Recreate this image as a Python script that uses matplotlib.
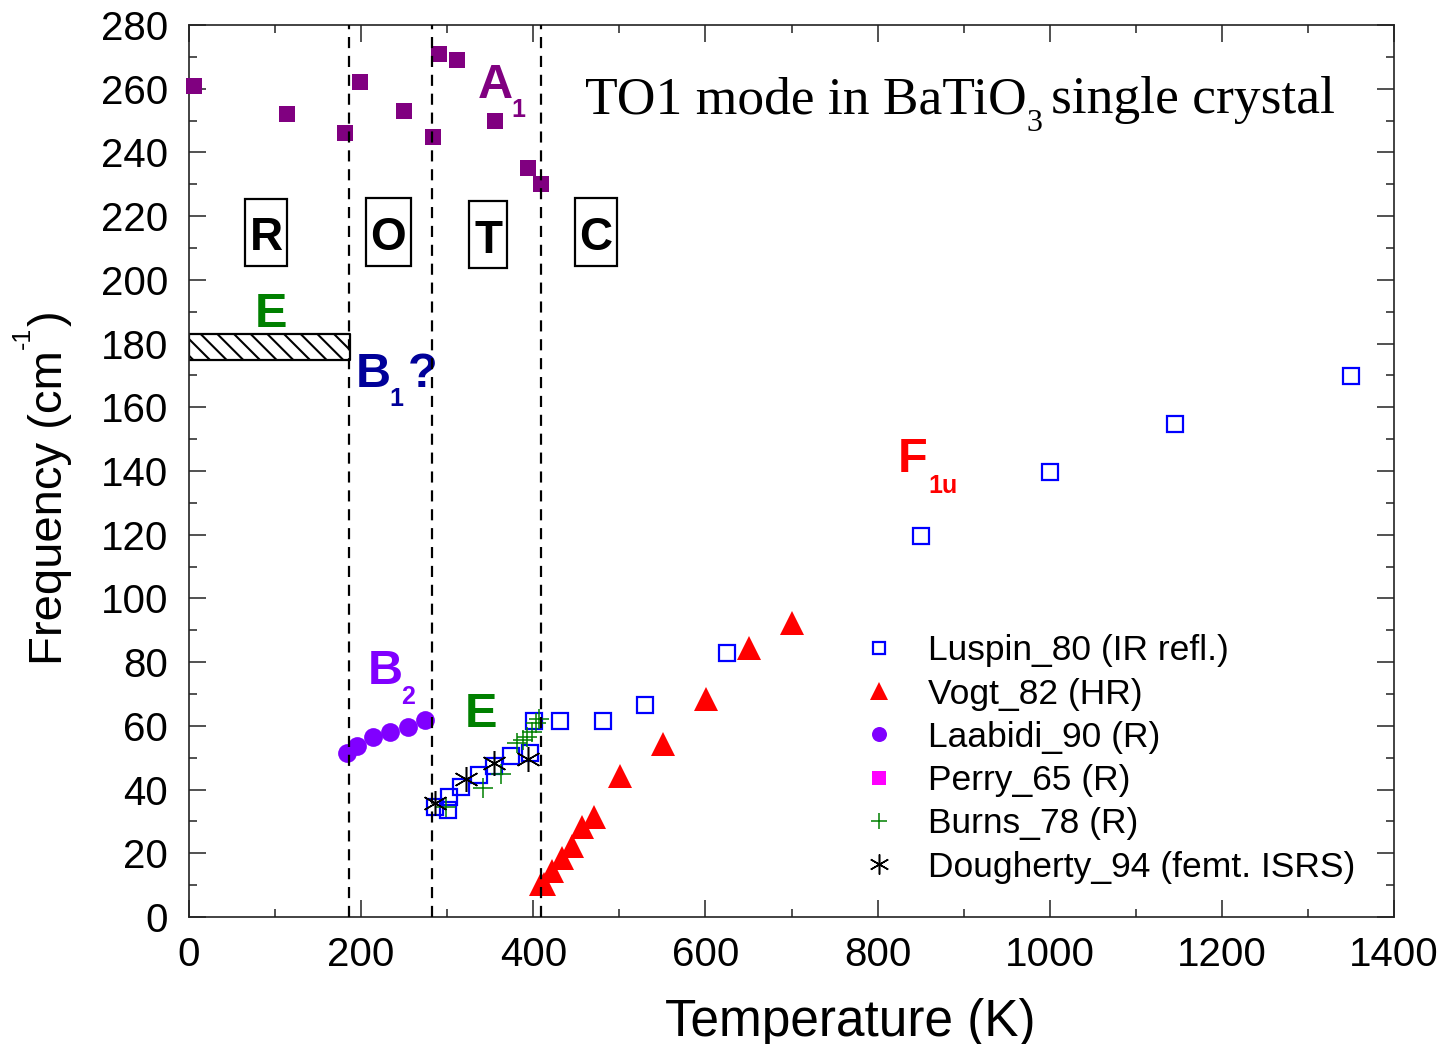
import matplotlib
matplotlib.use('Agg')
import matplotlib.pyplot as plt
from matplotlib.patches import Rectangle

plt.rcParams['font.family'] = ['Liberation Sans', 'DejaVu Sans']
plt.rcParams['hatch.linewidth'] = 1.5

# A1 mode (purple squares)
a1_T = [6, 114, 181, 199, 250, 284, 291, 311, 356, 394, 409]
a1_f = [261, 252, 246, 262, 253, 245, 271, 269, 250, 235, 230]

# Luspin_80 (IR refl.)
luspin_T = [286, 301, 302, 316, 337, 354, 374, 396, 401, 431, 481, 530, 625, 850, 1000, 1145, 1350]
luspin_f = [34.6, 33.6, 37.7, 40.7, 44.6, 47.5, 50.5, 51.6, 61.6, 61.6, 61.6, 66.5, 82.8, 119.6, 139.7, 154.7, 169.8]

# Vogt_82 (HR)
vogt_T = [409, 413, 422, 433, 445, 457, 470, 501, 551, 601, 651, 701]
vogt_f = [10.5, 10.5, 14.4, 18.4, 22.3, 28.1, 31.3, 44.3, 54.3, 68.3, 84.3, 92.2]

# Laabidi_90 (R)
laabidi_T = [183, 195, 214, 234, 254, 274]
laabidi_f = [51.6, 53.8, 56.4, 58.2, 59.5, 61.8]

# Perry_65 (R) - nothing visible in range
perry_T = []
perry_f = []

# Burns_78 (R)
burns_T = [299, 342, 362, 381, 388, 393, 398, 403, 407]
burns_f = [34.6, 40.4, 44.9, 54.5, 55.5, 56.5, 58, 60.8, 62]

# Dougherty_94 (femt. ISRS)
dough_T = [286, 322, 354, 394]
dough_f = [35.7, 43.2, 48.2, 49.5]

# phase transitions and E band in R phase
transitions = [186, 282, 409]
e_band_T = [0, 187]
e_band_lo = 175
e_band_hi = 183

phases = ['R', 'O', 'T', 'C']
phase_T = [89.6, 231.6, 347.6, 472.9]
phase_base = [209.3, 209.4, 208.3, 209.4]
box_c = [214.9, 215.1, 214.3, 215.1]
box_w = [49.1, 52.6, 43.8, 48.8]
box_h = 21.2

fig = plt.figure(figsize=(14.43, 10.44), dpi=100)
ax = fig.add_axes([189/1443, 1-917/1044, 1205/1443, 892/1044])

ax.plot(a1_T, a1_f, 's', color='#800080', ms=11.5, mew=0, clip_on=False, zorder=3)
ax.plot(luspin_T, luspin_f, 's', mfc='none', mec='#0000FF', ms=11, mew=1.6, clip_on=False, zorder=4,
        label='Luspin_80 (IR refl.)')
ax.plot(vogt_T, vogt_f, '^', color='#FF0000', ms=17, mew=0, clip_on=False, zorder=3,
        label='Vogt_82 (HR)')
ax.plot(laabidi_T, laabidi_f, 'o', color='#8000FF', ms=13.5, mew=0, clip_on=False, zorder=3,
        label='Laabidi_90 (R)')
ax.plot(perry_T, perry_f, 's', color='#FF00FF', ms=12, mew=0, label='Perry_65 (R)')
ax.plot(burns_T, burns_f, '+', color='#008000', ms=15, mew=1.1, clip_on=False, zorder=5,
        label='Burns_78 (R)')
ax.plot(dough_T, dough_f, marker=(6, 2, 0), ls='none', color='black', ms=18, mew=1.1,
        clip_on=False, zorder=5, label='Dougherty_94 (femt. ISRS)')

for t in transitions:
    ax.axvline(t, color='black', lw=1.6, ls=(0, (5, 3.5)), zorder=6)

ax.fill_between(e_band_T, e_band_lo, e_band_hi, facecolor='white', edgecolor='black',
                hatch='\\\\', lw=1.6, zorder=2)

for p, x, yb, yc, w in zip(phases, phase_T, phase_base, box_c, box_w):
    ax.add_patch(Rectangle((x - w/2, yc - box_h/2), w, box_h, fc='white', ec='black', lw=1.6, zorder=2))
    ax.text(x, yb, p, fontsize=33, weight='bold', ha='center', va='baseline', zorder=3)

# mode labels
lab = dict(fontsize=35, weight='bold', ha='left', va='baseline')
sub = dict(fontsize=18, weight='bold', ha='left', va='baseline')
ax.text(335, 257, 'A', color='#800080', **lab)
ax.text(375, 251.2, '1', color='#800080', **sub)
ax.text(76.7, 185.3, 'E', color='#008000', **lab)
ax.text(193.5, 166.5, 'B', color='#000099', **lab)
ax.text(233, 160.5, '1', color='#000099', **sub)
ax.text(254, 166.5, '?', color='#000099', **lab)
ax.text(824, 139.6, 'F', color='#FF0000', **lab)
ax.text(859, 133.2, '1u', color='#FF0000', **sub)
ax.text(208, 73.2, 'B', color='#8000FF', **lab)
ax.text(246, 66.8, '2', color='#8000FF', **sub)
ax.text(320.5, 59.5, 'E', color='#008000', **lab)

# title inside the plot
ser = dict(family='Liberation Serif', ha='left', va='baseline')
ax.text(460.1, 252.3, 'TO1 mode in BaTiO', fontsize=38.5, **ser)
ax.text(973, 246.8, '3', fontsize=23, **ser)
ax.text(1002, 252.3, 'single crystal', fontsize=38.5, **ser)

ax.set_xlim(0, 1400)
ax.set_ylim(0, 280)
ax.set_xticks(range(0, 1401, 200))
ax.set_xticks(range(0, 1401, 100), minor=True)
ax.set_yticks(range(0, 281, 20))
ax.set_yticks(range(0, 281, 10), minor=True)
ax.tick_params(which='both', direction='in', top=True, right=True, width=1.1, colors='#222222',
               labelcolor='black')
ax.tick_params(which='major', length=12, labelsize=29)
ax.tick_params(which='minor', length=6)
ax.tick_params(axis='x', which='major', pad=14)
ax.tick_params(axis='y', which='major', pad=15)
for s in ax.spines.values():
    s.set_linewidth(1.2)
    s.set_color('#222222')

ax.set_xlabel('Temperature (K)', fontsize=37)
ax.xaxis.set_label_coords(0.5486, -0.0906)

# y label with a small raised "-1"
rot = dict(rotation=90, rotation_mode='anchor', ha='left', va='baseline')
t1 = fig.text(61.7/1443, 1 - 665/1044, 'Frequency (cm', fontsize=34, **rot)
t2 = ax.annotate('-1', xy=(1, 1), xycoords=t1, xytext=(-30, 0.5), textcoords='offset points',
                 fontsize=18, annotation_clip=False, **rot)
ax.annotate(')', xy=(1, 1), xycoords=(t1, t2), xytext=(-7.3, 0.5), textcoords='offset points',
            fontsize=34, annotation_clip=False, **rot)

handles, labels = ax.get_legend_handles_labels()
ax.legend(handles, labels, loc='upper left', bbox_to_anchor=(0.5577, 0.317), frameon=False,
          fontsize=25.5, numpoints=1, handlelength=1.0, handletextpad=0.9, labelspacing=0.29,
          borderpad=0, borderaxespad=0, markerscale=0.8)

fig.savefig('out.png', dpi=100)
